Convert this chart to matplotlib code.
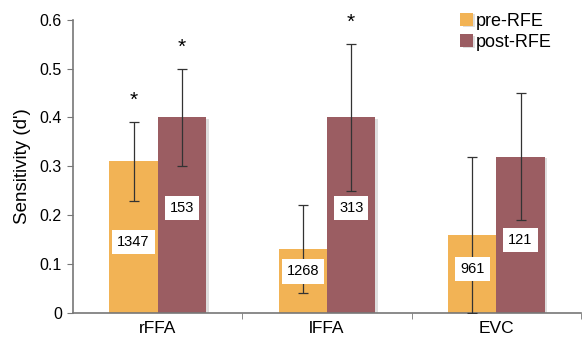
import matplotlib
matplotlib.use("Agg")
import matplotlib.pyplot as plt
import matplotlib.patheffects as pe
import numpy as np

plt.rcParams['font.family'] = ['Liberation Sans', 'DejaVu Sans']

categories = ["rFFA", "lFFA", "EVC"]
pre_vals = [0.31, 0.13, 0.16]
post_vals = [0.40, 0.40, 0.32]
pre_err = [0.08, 0.09, 0.16]
post_err = [0.10, 0.15, 0.13]
pre_counts = ["1347", "1268", "961"]
post_counts = ["153", "313", "121"]
pre_count_y = [0.145, 0.085, 0.09]
post_count_y = [0.215, 0.215, 0.15]
pre_star = [True, False, False]
post_star = [True, True, False]

c_pre = "#F2B355"
c_post = "#9B5D62"

fig = plt.figure(figsize=(5.84, 3.43), dpi=100)
ax = fig.add_axes([0.125, 0.0875, 0.87, 0.855])

x = np.arange(len(categories))
w = 0.285
shadow = [pe.SimplePatchShadow(offset=(2, -1), shadow_rgbFace='#c8c8c8', alpha=0.6), pe.Normal()]
b1 = ax.bar(x - w/2, pre_vals, w, color=c_pre, label="pre-RFE", zorder=2, path_effects=shadow)
b2 = ax.bar(x + w/2, post_vals, w, color=c_post, label="post-RFE", zorder=2, path_effects=shadow)
ax.errorbar(x - w/2, pre_vals, yerr=pre_err, fmt='none', ecolor='#333333', elinewidth=0.9, capsize=3.5, capthick=0.9, zorder=4)
ax.errorbar(x + w/2, post_vals, yerr=post_err, fmt='none', ecolor='#333333', elinewidth=0.9, capsize=3.5, capthick=0.9, zorder=4)

box = dict(boxstyle='square,pad=0.35', facecolor='white', edgecolor='none')
for i in range(len(categories)):
    ax.text(x[i] - w/2, pre_count_y[i], pre_counts[i], ha='center', va='center', fontsize=10.5, bbox=box, zorder=5)
    ax.text(x[i] + w/2, post_count_y[i], post_counts[i], ha='center', va='center', fontsize=10.5, bbox=box, zorder=5)
    if pre_star[i]:
        ax.text(x[i] - w/2, pre_vals[i] + pre_err[i] + 0.025, "*", ha='center', va='bottom', fontsize=15)
    if post_star[i]:
        ax.text(x[i] + w/2, post_vals[i] + post_err[i] + 0.025, "*", ha='center', va='bottom', fontsize=15)

ax.set_xlim(-0.5, 2.5)
ax.set_ylim(0, 0.6)
ax.set_yticks(np.arange(0, 0.61, 0.1))
ax.set_yticklabels(["0", "0.1", "0.2", "0.3", "0.4", "0.5", "0.6"], fontsize=11.5)
ax.set_xticks(x)
ax.set_xticklabels(categories, fontsize=12.5)
ax.set_xticks([0.5, 1.5, 2.5], minor=True)
ax.tick_params(axis='x', which='major', length=0, pad=6)
ax.tick_params(axis='x', which='minor', length=4, color='#777777')
ax.tick_params(axis='y', length=4, color='#777777', pad=4)
ax.set_ylabel("Sensitivity (d')", fontsize=13.5, labelpad=6)
for s in ['top', 'right']:
    ax.spines[s].set_visible(False)
for s in ['left', 'bottom']:
    ax.spines[s].set_color('#777777')
    ax.spines[s].set_linewidth(1.2)

leg = ax.legend(loc='upper right', bbox_to_anchor=(0.975, 1.08), frameon=False, fontsize=13,
                handlelength=0.7, handleheight=0.7, handletextpad=0.2, labelspacing=0.25)

fig.savefig("out.png", dpi=100)
